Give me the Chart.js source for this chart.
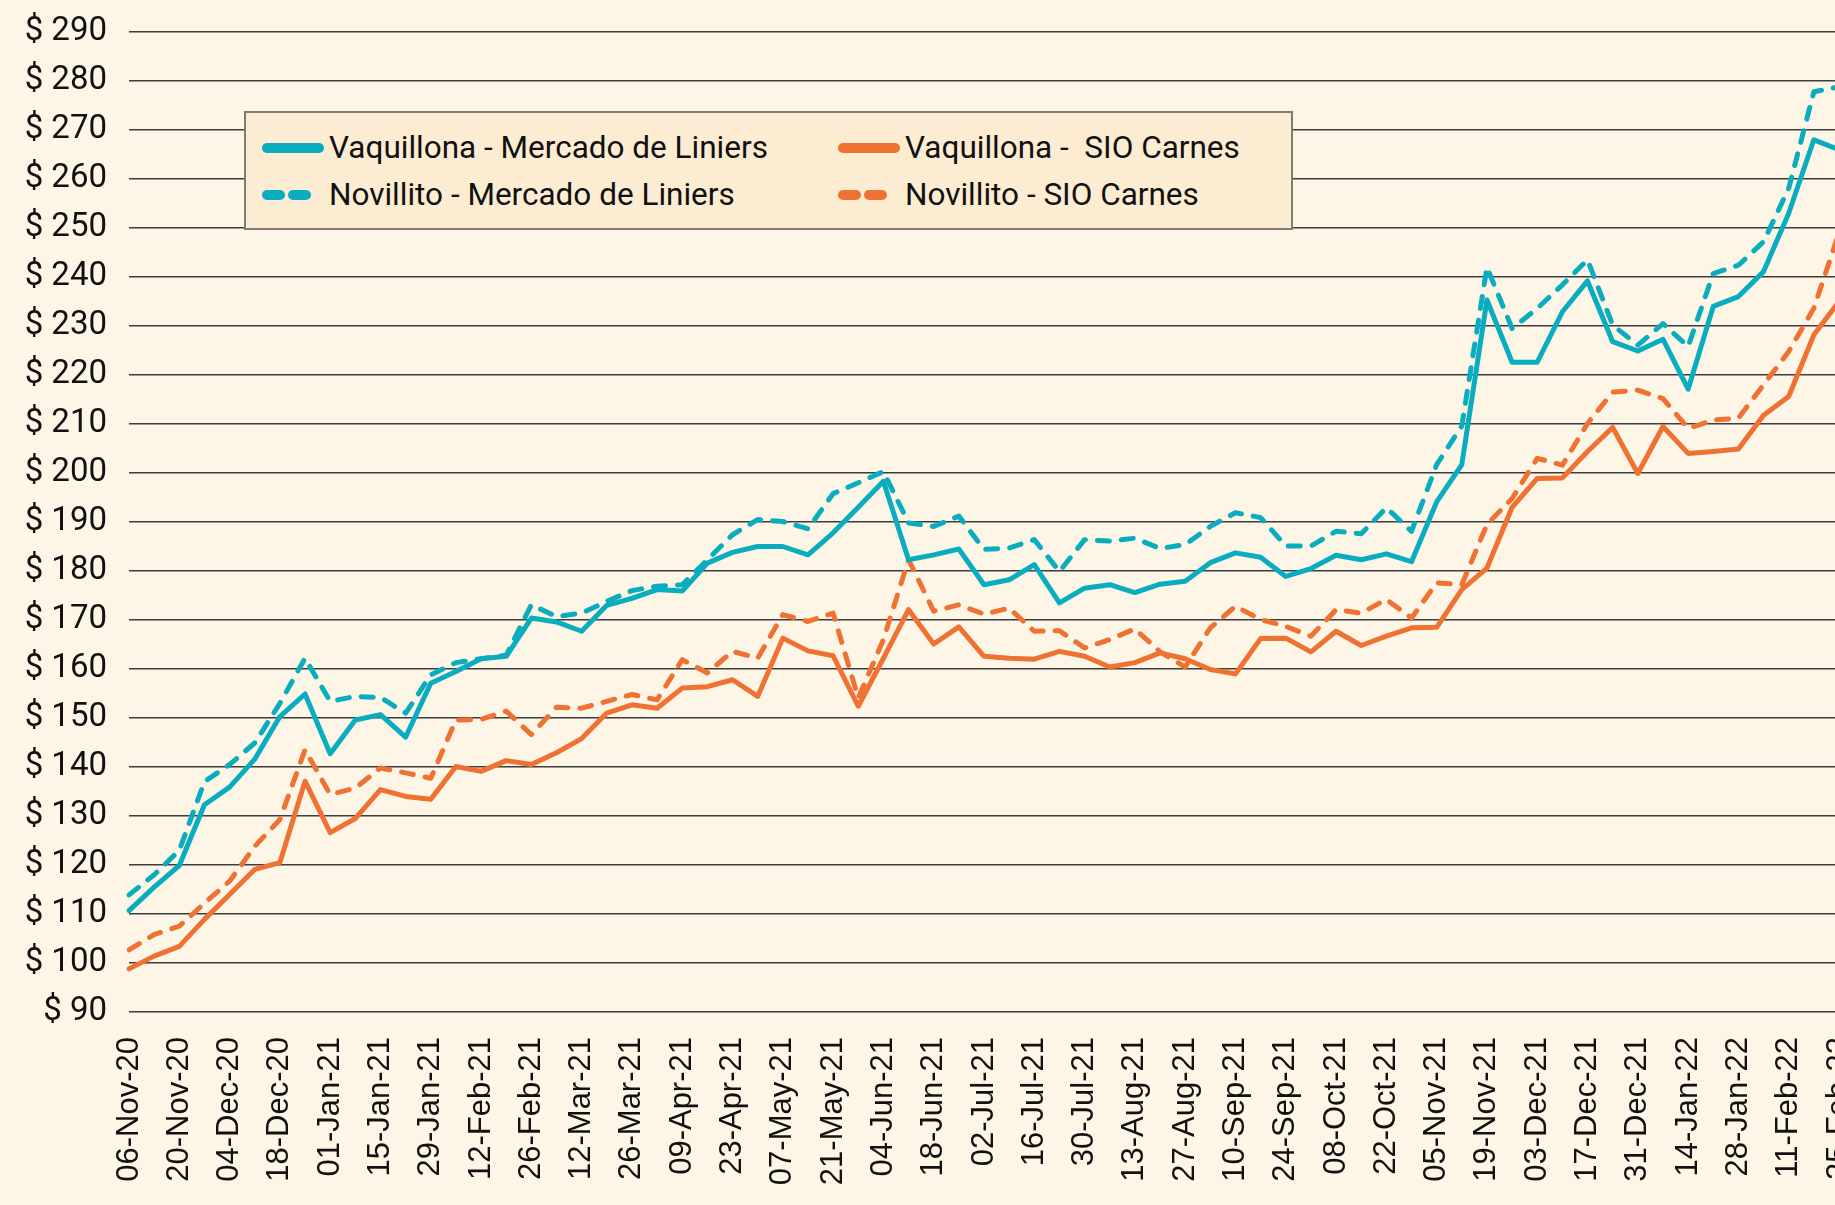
<!DOCTYPE html>
<html>
<head>
<meta charset="utf-8">
<script src="https://cdn.jsdelivr.net/npm/chart.js@4.4.0/dist/chart.umd.min.js"></script>
<style>
  html, body {
    margin: 0;
    padding: 0;
    overflow: hidden;
    background: #fdf5e6;
  }
  .wrap {
    position: relative;
    width: 1835px;
    height: 1205px;
    overflow: hidden;
  }
  .legendBox {
    position: absolute;
    left: 244px;
    top: 111px;
    width: 1045px;
    height: 115px;
    border: 2px solid #7f7a72;
    background: #fcedd2;
    font-family: Roboto, sans-serif;
    font-size: 31.5px;
    color: #111;
  }
  .legendItem {
    position: absolute;
    height: 40px;
    line-height: 40px;
    white-space: pre;
  }
  .sample {
    position: absolute;
    top: 15px;
    height: 10px;
    border-radius: 5px;
  }
</style>
</head>
<body>
<div class="wrap">
  <canvas id="myChart" width="1839" height="1205"></canvas>
  <div class="legendBox" id="legendBox"></div>
</div>
<script>
let weekLabels = [
  "06-Nov-20", "13-Nov-20", "20-Nov-20", "27-Nov-20", "04-Dec-20", "11-Dec-20",
  "18-Dec-20", "25-Dec-20", "01-Jan-21", "08-Jan-21", "15-Jan-21", "22-Jan-21",
  "29-Jan-21", "05-Feb-21", "12-Feb-21", "19-Feb-21", "26-Feb-21", "05-Mar-21",
  "12-Mar-21", "19-Mar-21", "26-Mar-21", "02-Apr-21", "09-Apr-21", "16-Apr-21",
  "23-Apr-21", "30-Apr-21", "07-May-21", "14-May-21", "21-May-21", "28-May-21",
  "04-Jun-21", "11-Jun-21", "18-Jun-21", "25-Jun-21", "02-Jul-21", "09-Jul-21",
  "16-Jul-21", "23-Jul-21", "30-Jul-21", "06-Aug-21", "13-Aug-21", "20-Aug-21",
  "27-Aug-21", "03-Sep-21", "10-Sep-21", "17-Sep-21", "24-Sep-21", "01-Oct-21",
  "08-Oct-21", "15-Oct-21", "22-Oct-21", "29-Oct-21", "05-Nov-21", "12-Nov-21",
  "19-Nov-21", "26-Nov-21", "03-Dec-21", "10-Dec-21", "17-Dec-21", "24-Dec-21",
  "31-Dec-21", "07-Jan-22", "14-Jan-22", "21-Jan-22", "28-Jan-22", "04-Feb-22",
  "11-Feb-22", "18-Feb-22", "25-Feb-22",
];

let vaquillonaLiniers = [
  110.7, 115.5, 119.9, 132.3, 135.9, 141.6, 150.3, 154.9, 142.7, 149.6,
  150.7, 146.1, 157.1, 159.5, 162.1, 162.6, 170.4, 169.6, 167.7, 173.0,
  174.4, 176.2, 175.9, 181.6, 183.8, 185.0, 185.0, 183.3, 187.8, 193.0,
  198.3, 182.3, 183.3, 184.5, 177.2, 178.2, 181.3, 173.5, 176.5, 177.2,
  175.6, 177.3, 177.9, 181.7, 183.7, 182.8, 178.9, 180.5, 183.2, 182.3,
  183.5, 181.9, 194.1, 201.7, 235.3, 222.6, 222.6, 232.9, 239.2, 226.8,
  224.9, 227.3, 217.1, 234.0, 236.0, 241.1, 253.0, 268.0, 266.0,
];
let novillitoLiniers = [
  113.9, 118.0, 123.0, 137.0, 140.5, 144.9, 153.0, 162.2, 153.4, 154.4,
  154.2, 151.0, 158.8, 161.3, 162.1, 162.8, 173.1, 170.7, 171.4, 173.8,
  176.0, 176.9, 177.2, 182.3, 187.4, 190.5, 190.1, 188.6, 195.8, 198.0,
  200.3, 189.8, 189.1, 191.2, 184.4, 184.7, 186.4, 179.9, 186.4, 186.1,
  186.7, 184.6, 185.4, 189.1, 191.9, 190.9, 185.1, 185.1, 188.1, 187.6,
  192.9, 188.1, 201.7, 209.6, 242.0, 229.5, 233.6, 238.4, 243.5, 230.2,
  226.1, 230.5, 225.8, 240.7, 242.4, 247.2, 258.1, 277.8, 278.8,
];
let vaquillonaSio = [
  98.8, 101.4, 103.4, 108.9, 114.0, 119.1, 120.5, 137.1, 126.6, 129.5,
  135.4, 134.0, 133.4, 140.1, 139.1, 141.3, 140.5, 142.9, 145.8, 151.0,
  152.7, 152.0, 156.1, 156.4, 157.8, 154.4, 166.3, 163.7, 162.7, 152.4,
  162.2, 172.1, 165.1, 168.6, 162.6, 162.2, 162.0, 163.6, 162.6, 160.4,
  161.3, 163.3, 162.1, 159.9, 159.0, 166.2, 166.3, 163.5, 167.7, 164.8,
  166.7, 168.4, 168.5, 176.2, 180.6, 193.0, 198.9, 199.0, 204.4, 209.3,
  199.9, 209.5, 204.0, 204.4, 204.9, 211.8, 215.6, 228.2, 235.0,
];
let novillitoSio = [
  102.7, 105.8, 107.5, 112.2, 116.7, 123.8, 129.3, 143.5, 134.4, 135.7,
  139.8, 138.8, 137.7, 149.6, 149.7, 151.4, 146.6, 152.2, 152.0, 153.4,
  154.8, 153.7, 161.9, 159.2, 163.6, 162.2, 171.1, 169.7, 171.4, 154.1,
  166.0, 182.3, 171.8, 173.1, 171.2, 172.4, 167.7, 167.8, 164.3, 166.0,
  168.2, 163.5, 160.4, 168.4, 172.8, 170.1, 168.7, 166.7, 172.1, 171.4,
  174.2, 170.4, 177.6, 177.2, 189.5, 194.8, 203.0, 201.6, 210.1, 216.5,
  216.9, 215.2, 209.1, 210.8, 211.2, 218.0, 224.8, 233.6, 249.0,
];

let seriesNames = [
  "Vaquillona - Mercado de Liniers",
  "Novillito - Mercado de Liniers",
  "Vaquillona -  SIO Carnes",
  "Novillito - SIO Carnes",
];
let tealColor = "#09adbf";
let orangeColor = "#ef7233";

let lineStyle = (label, data, color, dashed) => {
  return {
    label: label,
    data: data,
    borderColor: color,
    backgroundColor: color,
    borderWidth: 5,
    borderDash: dashed ? [12, 12] : [],
    borderCapStyle: "round",
    borderJoinStyle: "round",
    pointRadius: 0,
    tension: 0,
    fill: false,
  };
};

// legend is plain html on top of the chart area
let legendItems = [
  { name: seriesNames[0], color: tealColor, dashed: false, left: 14, top: 15 },
  { name: seriesNames[1], color: tealColor, dashed: true, left: 14, top: 62 },
  { name: seriesNames[2], color: orangeColor, dashed: false, left: 590, top: 15 },
  { name: seriesNames[3], color: orangeColor, dashed: true, left: 590, top: 62 },
];
let legendBox = document.getElementById("legendBox");
legendItems.forEach((item) => {
  let row = document.createElement("div");
  row.className = "legendItem";
  row.style.left = item.left + "px";
  row.style.top = item.top + "px";
  row.style.paddingLeft = "69px";
  if (item.dashed) {
    row.innerHTML =
      `<div class="sample" style="left:2px;width:23px;background:${item.color}"></div>` +
      `<div class="sample" style="left:28px;width:23px;background:${item.color}"></div>`;
  } else {
    row.innerHTML = `<div class="sample" style="left:2px;width:62px;background:${item.color}"></div>`;
  }
  let text = document.createElement("span");
  text.textContent = item.name;
  row.appendChild(text);
  legendBox.appendChild(row);
});

const lineChart = document.getElementById("myChart").getContext("2d");
const lineChartValue = new Chart(lineChart, {
  type: "line",
  data: {
    labels: weekLabels,
    datasets: [
      lineStyle(seriesNames[0], vaquillonaLiniers, tealColor, false),
      lineStyle(seriesNames[1], novillitoLiniers, tealColor, true),
      lineStyle(seriesNames[2], vaquillonaSio, orangeColor, false),
      lineStyle(seriesNames[3], novillitoSio, orangeColor, true),
    ],
  },
  options: {
    responsive: false,
    animation: false,
    layout: {
      padding: { top: 32, left: 0, right: 0, bottom: 0 },
    },
    plugins: {
      legend: { display: false },
      tooltip: { enabled: false },
    },
    scales: {
      x: {
        grid: { display: false, drawTicks: false },
        border: { display: false },
        ticks: {
          autoSkip: false,
          minRotation: 90,
          maxRotation: 90,
          padding: 25,
          color: "#111",
          font: { family: "'Liberation Sans', Arial, sans-serif", size: 31 },
          callback: function (value, index) {
            return index % 2 === 0 ? this.getLabelForValue(value) : "";
          },
        },
        afterFit: (axis) => {
          axis.height = 193;
          axis.paddingLeft = 0;
          axis.paddingRight = 0;
        },
      },
      y: {
        min: 90,
        max: 290,
        grid: { color: "#3d3d3d", lineWidth: 1.4, drawTicks: false },
        border: { display: false },
        ticks: {
          stepSize: 10,
          padding: 22,
          color: "#111",
          font: { family: "Roboto, sans-serif", size: 33 },
          callback: (value) => "$ " + value,
        },
        afterFit: (axis) => {
          axis.width = 129;
          axis.paddingTop = 0;
          axis.paddingBottom = 0;
        },
      },
    },
  },
});
</script>
</body>
</html>
